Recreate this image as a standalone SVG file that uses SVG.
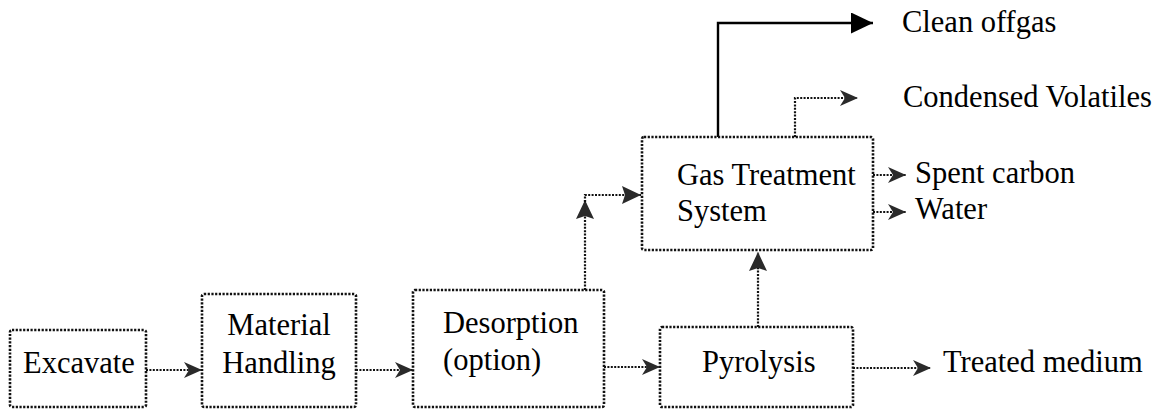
<svg xmlns="http://www.w3.org/2000/svg" width="1174" height="409" viewBox="0 0 1174 409">
<style>
.box{fill:#fff;stroke:#111;stroke-width:2.6;stroke-dasharray:2.2 1.5}
.dl{fill:none;stroke:#111;stroke-width:2.2;stroke-dasharray:2 1.4}
.sl{fill:none;stroke:#000;stroke-width:2.4}
</style>
<defs>
<marker id="da" markerUnits="userSpaceOnUse" markerWidth="18" markerHeight="16" refX="18" refY="8" orient="auto" viewBox="0 0 18 16">
<path d="M0,0 L18,8 L0,16 L5,8 z" fill="#2a2a2a"/>
</marker>
<marker id="dab" markerUnits="userSpaceOnUse" markerWidth="19" markerHeight="18" refX="19" refY="9" orient="auto" viewBox="0 0 19 18">
<path d="M0,0 L19,9 L0,18 L3,9 z" fill="#2a2a2a"/>
</marker>
<marker id="sa" markerUnits="userSpaceOnUse" markerWidth="22" markerHeight="21" refX="22" refY="10.5" orient="auto" viewBox="0 0 22 21">
<path d="M0,0 L22,10.5 L0,21 z" fill="#000"/>
</marker>
</defs>
<g id="connectors">
<path class="dl" d="M146,370 H202" marker-end="url(#da)"/>
<path class="dl" d="M356,370 H413" marker-end="url(#da)"/>
<path class="dl" d="M604,367 H660" marker-end="url(#da)"/>
<path class="dl" d="M853,368 H931" marker-end="url(#da)"/>
<path class="dl" d="M585,290 V200" marker-end="url(#dab)"/>
<path class="dl" d="M585,202 V195 H641" marker-end="url(#dab)"/>
<path class="dl" d="M758,327 V252" marker-end="url(#dab)"/>
<path class="sl" d="M718,137 V23 H873" marker-end="url(#sa)"/>
<path class="dl" d="M795,137 V98 H858" marker-end="url(#da)"/>
<path class="dl" d="M873,175 H906" marker-end="url(#da)"/>
<path class="dl" d="M873,212 H906" marker-end="url(#da)"/>
</g>
<g font-family="'Liberation Serif', 'Times New Roman', 'DejaVu Serif', serif" font-size="30.5" fill="#000">
<g id="excavate">
<rect class="box" x="10" y="330" width="136" height="77" rx="2"/>
<text x="23" y="373">Excavate</text>
</g>
<g id="material-handling">
<rect class="box" x="202" y="294" width="154" height="113" rx="2"/>
<text x="279" y="335" text-anchor="middle">Material</text>
<text x="279" y="373" text-anchor="middle">Handling</text>
</g>
<g id="desorption">
<rect class="box" x="413" y="290" width="191" height="117" rx="2"/>
<text x="443" y="333">Desorption</text>
<text x="443" y="370">(option)</text>
</g>
<g id="pyrolysis">
<rect class="box" x="660" y="327" width="193" height="80" rx="2"/>
<text x="702" y="372">Pyrolysis</text>
</g>
<g id="gas-treatment">
<rect class="box" x="642" y="137" width="231" height="113" rx="2"/>
<text x="677" y="185">Gas Treatment</text>
<text x="677" y="221">System</text>
</g>
<g id="outputs">
<text x="902" y="32">Clean offgas</text>
<text x="903" y="107">Condensed Volatiles</text>
<text x="915" y="183">Spent carbon</text>
<text x="915" y="219">Water</text>
<text x="943" y="372">Treated medium</text>
</g>
</g>
</svg>
